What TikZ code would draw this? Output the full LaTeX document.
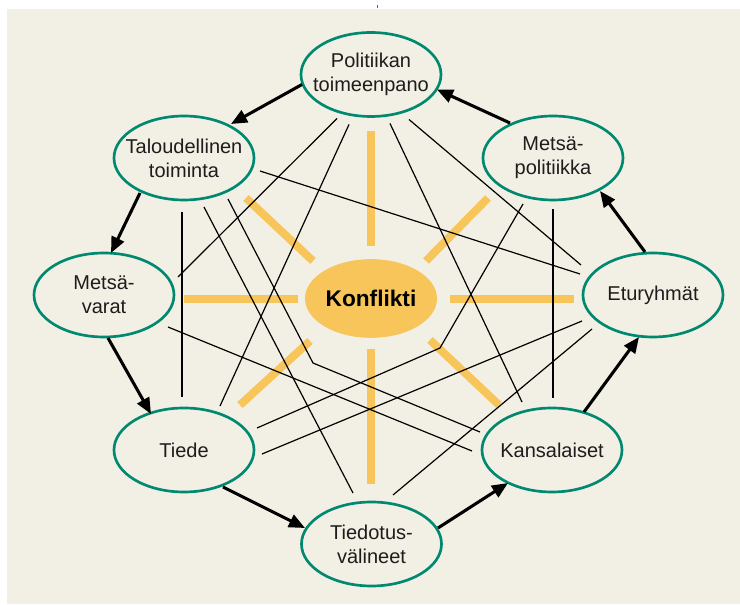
\documentclass[tikz,border=0pt]{standalone}
\usepackage{fontspec}
\setmainfont{Liberation Sans}
\usetikzlibrary{arrows.meta,shapes.geometric}
\definecolor{bg}{RGB}{242,240,228}
\definecolor{ray}{RGB}{247,197,90}
\definecolor{tealc}{RGB}{0,137,112}
\definecolor{ink}{RGB}{30,28,28}
\begin{document}
\begin{tikzpicture}[x=0.75pt,y=-0.75pt,
  peri/.style={ellipse, draw=tealc, line width=2pt, minimum width=105pt, minimum height=63pt,
    inner sep=0pt, align=center, font=\fontsize{15}{18}\selectfont, text=ink},
  hub/.style={ellipse, fill=ray, minimum width=99pt, minimum height=59pt, inner sep=0pt,
    font=\fontsize{17}{20}\selectfont\bfseries, text=black},
  rayline/.style={draw=ray, line width=6pt},
  link/.style={draw=black, line width=0.9pt},
  flow/.style={draw=black, line width=2.3pt, -{Triangle[length=12pt,width=10pt]}},
]
\useasboundingbox (0,0) rectangle (740,605);
\fill[white] (0,0) rectangle (740,605);
\fill[bg] (7,9) rectangle (740,604);
\draw[tealc, line width=0.8pt] (377.7,5.5) -- (377.7,8.5);

% hub and rays
\node[hub] (C) at (371,298.5) {\makebox[0pt]{Konflikti}};
\draw[rayline] (371,131) -- (371,246);
\draw[rayline] (371,349) -- (371,484);
\draw[rayline] (184,299) -- (298,299);
\draw[rayline] (450,299) -- (574,299);
\draw[rayline] (246,198) -- (313,261);
\draw[rayline] (488,198) -- (426,261);
\draw[rayline] (310,341) -- (240,405);
\draw[rayline] (430,340) -- (499,405);

% peripheral nodes
\node[peri] (P)  at (371,74.5) {\makebox[0pt]{Politiikan}\\\makebox[0pt]{toimeenpano}};
\node[peri] (T)  at (184,158) {\makebox[0pt]{Taloudellinen}\\\makebox[0pt]{toiminta}};
\node[peri] (M)  at (553,158) {\makebox[0pt]{Metsä-}\\\makebox[0pt]{politiikka}};
\node[peri] (V)  at (104,295) {\makebox[0pt]{Metsä-}\\\makebox[0pt]{varat}};
\node[peri] (E)  at (653,295) {\makebox[0pt]{Eturyhmät}};
\node[peri] (Ti) at (184,450) {\makebox[0pt]{Tiede}};
\node[peri] (K)  at (552,450) {\makebox[0pt]{Kansalaiset}};
\node[peri] (D)  at (371.5,544) {\makebox[0pt]{Tiedotus-}\\\makebox[0pt]{välineet}};

\coordinate (k1) at (313,363);
\coordinate (k2) at (440,348);

% thin cross links
\draw[link] ([shift={(-34,44)}]P.center) -- ([shift={(74,-18)}]V.center);
\draw[link] ([shift={(-22,50)}]P.center) -- ([shift={(36,-44)}]Ti.center);
\draw[link] ([shift={(19,49)}]P.center) -- ([shift={(-30,-48)}]K.center);
\draw[link] ([shift={(38,45)}]P.center) -- ([shift={(-72,-30)}]E.center);
\draw[link] ([shift={(76,13)}]T.center) -- ([shift={(-73,-21)}]E.center);
\draw[link] ([shift={(-2,54)}]T.center) -- ([shift={(-2,-53)}]Ti.center);
\draw[link] ([shift={(20,49)}]T.center) -- ([shift={(-18.5,-51)}]D.center);
\draw[link] ([shift={(44,41)}]T.center) -- (k1) -- ([shift={(-72,-18)}]K.center);
\draw[link] ([shift={(-30,46)}]M.center) -- (k2) -- ([shift={(73,-22)}]Ti.center);
\draw[link] ([shift={(0,51)}]M.center) -- ([shift={(1,-52)}]K.center);
\draw[link] ([shift={(64,32)}]V.center) -- ([shift={(-80,1)}]K.center);
\draw[link] ([shift={(78,4)}]Ti.center) -- ([shift={(-71,26)}]E.center);
\draw[link] ([shift={(21.5,-49)}]D.center) -- ([shift={(-61,34)}]E.center);

% ring arrows
\draw[flow] ([shift={(-69,10)}]P.center) -- ([shift={(47,-34)}]T.center);
\draw[flow] ([shift={(-44,35)}]T.center) -- ([shift={(7,-42)}]V.center);
\draw[flow] ([shift={(4,43)}]V.center) -- ([shift={(-33,-36)}]Ti.center);
\draw[flow] ([shift={(39,37)}]Ti.center) -- ([shift={(-66.5,-16)}]D.center);
\draw[flow] ([shift={(66.5,-16)}]D.center) -- ([shift={(-44,33)}]K.center);
\draw[flow] ([shift={(32,-38)}]K.center) -- ([shift={(-14,42)}]E.center);
\draw[flow] ([shift={(-8,-43)}]E.center) -- ([shift={(47,33)}]M.center);
\draw[flow] ([shift={(-43,-35)}]M.center) -- ([shift={(66,15)}]P.center);
\end{tikzpicture}
\end{document}
